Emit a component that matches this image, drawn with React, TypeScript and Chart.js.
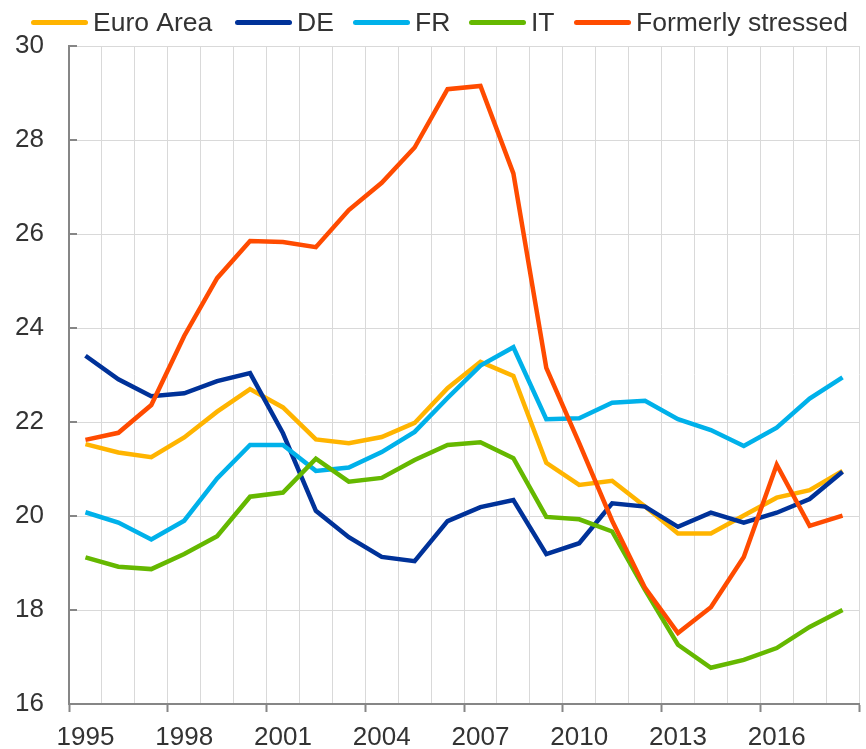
import React, { useEffect, useRef } from "react";
import { Chart, registerables } from "chart.js";

Chart.register(...registerables);

const years = [
  "1995", "1996", "1997", "1998", "1999", "2000", "2001", "2002",
  "2003", "2004", "2005", "2006", "2007", "2008", "2009", "2010",
  "2011", "2012", "2013", "2014", "2015", "2016", "2017", "2018",
];

const euroArea = [21.53, 21.35, 21.25, 21.67, 22.22, 22.7, 22.31, 21.63, 21.55, 21.68, 21.98, 22.72, 23.28, 22.98, 21.13, 20.66, 20.75, 20.2, 19.63, 19.63, 20.01, 20.39, 20.55, 20.96];
const de = [23.41, 22.91, 22.55, 22.61, 22.87, 23.04, 21.76, 20.11, 19.55, 19.13, 19.04, 19.89, 20.19, 20.34, 19.19, 19.42, 20.27, 20.2, 19.77, 20.07, 19.86, 20.07, 20.36, 20.94];
const fr = [20.08, 19.86, 19.5, 19.9, 20.8, 21.51, 21.51, 20.96, 21.03, 21.36, 21.79, 22.51, 23.2, 23.59, 22.06, 22.08, 22.41, 22.45, 22.06, 21.83, 21.49, 21.88, 22.5, 22.95];
const it = [19.12, 18.92, 18.87, 19.19, 19.57, 20.41, 20.5, 21.22, 20.73, 20.81, 21.19, 21.51, 21.57, 21.23, 19.98, 19.93, 19.67, 18.43, 17.26, 16.77, 16.94, 17.19, 17.64, 18.0];
const formerlyStressed = [21.62, 21.77, 22.36, 23.83, 25.06, 25.85, 25.83, 25.72, 26.51, 27.09, 27.84, 29.08, 29.15, 27.29, 23.15, 21.55, 19.9, 18.47, 17.51, 18.06, 19.13, 21.09, 19.79, 20.01];

const seriesLabels = ["Euro Area", "DE", "FR", "IT", "Formerly stressed"];
const seriesColors = ["#FFB400", "#003299", "#00B1EA", "#65B800", "#FF4B00"];
const seriesData = [euroArea, de, fr, it, formerlyStressed];

const yMin = 16;
const yMax = 30;
const yStep = 2;

const FONT = '"Liberation Sans", Arial, Helvetica, sans-serif';
const TEXT = "#333333";
const AXIS = "#868686";
const GRID = "#d9d9d9";

// legend swatch left edges (layout only)
const LEGEND_X = [31, 235, 353, 469, 574];

const legendPlugin = {
  id: "customLegend",
  afterDraw(chart: any) {
    const ctx = chart.ctx;
    ctx.save();
    ctx.font = `26.5px ${FONT}`;
    const cy = 22.5;
    chart.data.datasets.forEach((ds: any, i: number) => {
      const x = LEGEND_X[i];
      ctx.strokeStyle = ds.borderColor;
      ctx.lineWidth = 5;
      ctx.lineCap = "round";
      ctx.beginPath();
      ctx.moveTo(x + 2.5, cy);
      ctx.lineTo(x + 57 - 2.5, cy);
      ctx.stroke();
      ctx.fillStyle = TEXT;
      ctx.textBaseline = "alphabetic";
      ctx.textAlign = "left";
      ctx.fillText(ds.label, x + 62, 31);
    });
    ctx.restore();
  },
};

const yInnerTicks = {
  id: "yInnerTicks",
  beforeDatasetsDraw(chart: any) {
    const y = chart.scales.y;
    const ctx = chart.ctx;
    const left = chart.chartArea.left;
    ctx.save();
    ctx.strokeStyle = AXIS;
    ctx.lineWidth = 2;
    y.ticks.forEach((_t: any, i: number) => {
      const py = Math.round(y.getPixelForTick(i));
      ctx.beginPath();
      ctx.moveTo(left, py);
      ctx.lineTo(left + 8, py);
      ctx.stroke();
    });
    ctx.restore();
  },
};

export default function App() {
  const ref = useRef<HTMLCanvasElement>(null);

  useEffect(() => {
    if (!ref.current) return;
    const chart = new Chart(ref.current, {
      type: "line",
      data: {
        labels: years,
        datasets: seriesLabels.map((label, i) => ({
          label,
          data: seriesData[i],
          borderColor: seriesColors[i],
          backgroundColor: seriesColors[i],
          borderWidth: 4.5,
          pointRadius: 0,
          pointHoverRadius: 0,
          tension: 0,
          fill: false,
          order: seriesLabels.length - i,
        })),
      },
      options: {
        responsive: false,
        animation: false,
        events: [],
        layout: { padding: { top: 46, right: 7, left: 0, bottom: 0 } },
        plugins: {
          legend: { display: false },
          tooltip: { enabled: false },
        },
        scales: {
          x: {
            type: "category",
            offset: true,
            grid: {
              offset: true,
              color: GRID,
              lineWidth: 1,
              drawTicks: true,
              tickLength: 8,
              tickWidth: 2,
              tickColor: (ctx: any) =>
                ctx.index === undefined || ctx.index % 3 === 0 ? AXIS : "rgba(0,0,0,0)",
            },
            border: { color: AXIS, width: 2 },
            ticks: {
              autoSkip: false,
              maxRotation: 0,
              minRotation: 0,
              padding: 10,
              color: TEXT,
              font: { size: 26, family: FONT },
              callback: (_v: any, i: number) => (i % 3 === 0 ? years[i] : ""),
            },
            afterFit: (s: any) => {
              s.height = 45;
            },
          },
          y: {
            min: yMin,
            max: yMax,
            grid: { color: GRID, lineWidth: 1, drawTicks: false },
            border: { color: AXIS, width: 2 },
            ticks: {
              stepSize: yStep,
              padding: 25,
              color: TEXT,
              font: { size: 26, family: FONT },
            },
            afterFit: (s: any) => {
              s.width = 69;
            },
          },
        },
      },
      plugins: [legendPlugin, yInnerTicks],
    });
    return () => chart.destroy();
  }, []);

  return (
    <div style={{ position: "fixed", left: 0, top: 0, width: 866, height: 749, background: "#fff" }}>
      <canvas ref={ref} width={866} height={749} style={{ display: "block" }} />
    </div>
  );
}
